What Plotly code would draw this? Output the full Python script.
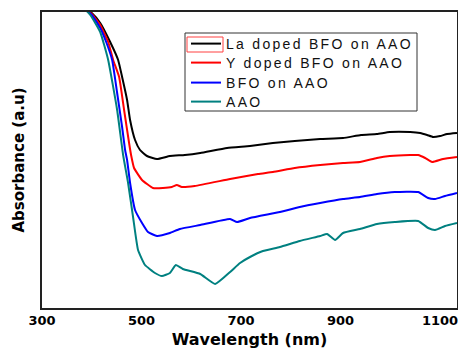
import plotly.graph_objects as go

# Wavelength (nm) and absorbance (a.u.)
la_wl = [300, 376, 400, 417, 437, 453, 461, 471, 477, 487, 497, 511, 531, 557, 587, 618, 672, 718, 764, 808, 859, 905, 941, 973, 999, 1040, 1060, 1074, 1086, 1100, 1114, 1134]
la_ab = [3.28, 3.03, 2.95, 2.85, 2.66, 2.48, 2.31, 2.08, 1.88, 1.68, 1.58, 1.52, 1.49, 1.52, 1.53, 1.55, 1.60, 1.62, 1.65, 1.67, 1.69, 1.70, 1.73, 1.74, 1.76, 1.76, 1.75, 1.73, 1.71, 1.72, 1.74, 1.75]

y_wl = [300, 376, 400, 417, 433, 443, 455, 465, 475, 479, 485, 501, 523, 543, 561, 571, 581, 607, 678, 734, 764, 808, 859, 905, 939, 973, 999, 1040, 1056, 1070, 1084, 1106, 1134]
y_ab = [3.28, 3.03, 2.94, 2.83, 2.66, 2.48, 2.31, 1.98, 1.65, 1.53, 1.40, 1.28, 1.20, 1.20, 1.21, 1.23, 1.21, 1.22, 1.29, 1.34, 1.36, 1.40, 1.43, 1.45, 1.46, 1.50, 1.52, 1.53, 1.53, 1.50, 1.46, 1.49, 1.51]

bfo_wl = [300, 376, 400, 417, 429, 441, 451, 461, 467, 471, 477, 487, 501, 513, 531, 557, 577, 618, 678, 692, 718, 778, 818, 859, 905, 939, 973, 1009, 1056, 1076, 1090, 1110, 1134]
bfo_ab = [3.28, 3.03, 2.93, 2.80, 2.66, 2.48, 2.15, 1.81, 1.58, 1.48, 1.25, 0.98, 0.85, 0.76, 0.72, 0.75, 0.79, 0.83, 0.89, 0.86, 0.90, 0.96, 1.01, 1.05, 1.09, 1.11, 1.14, 1.16, 1.16, 1.10, 1.09, 1.12, 1.15]

aao_wl = [300, 376, 397, 417, 433, 451, 463, 473, 483, 493, 507, 527, 541, 557, 569, 583, 618, 648, 678, 698, 718, 744, 778, 818, 859, 873, 889, 905, 939, 973, 1009, 1056, 1076, 1090, 1110, 1134]
aao_ab = [3.28, 3.03, 2.93, 2.76, 2.48, 1.98, 1.53, 1.25, 0.91, 0.58, 0.43, 0.35, 0.32, 0.35, 0.43, 0.39, 0.34, 0.24, 0.36, 0.45, 0.51, 0.57, 0.61, 0.67, 0.72, 0.74, 0.68, 0.75, 0.79, 0.84, 0.86, 0.87, 0.80, 0.78, 0.82, 0.85]

x_ticks = [300, 500, 700, 900, 1100]

names = ["La doped BFO on AAO", "Y doped BFO on AAO", "BFO on AAO", "AAO"]
colors = ["#000000", "#ff0000", "#0000ff", "#008080"]
series = [(la_wl, la_ab), (y_wl, y_ab), (bfo_wl, bfo_ab), (aao_wl, aao_ab)]
legend_ids = ["legend2", "legend3", "legend4", "legend5"]

# plot-area geometry (pixels)
L, R, T, B = 42, 457, 12, 308
W, H = R - L, B - T


def px(x):
    return (x - L) / W


def py(y):
    return (B - y) / H


fig = go.Figure()
for (wl, ab), name, col, lg in zip(series, names, colors, legend_ids):
    fig.add_trace(go.Scatter(
        x=wl, y=ab, mode="lines",
        name="<span style='letter-spacing:2.3px'>" + name + "</span>",
        legend=lg,
        line=dict(color=col, width=2, shape="spline", smoothing=0.4)))

legend_font = dict(family="Liberation Sans, Arial", size=14, color="#111")
row_y = [44, 63, 83, 102]
legend_layout = {}
for lg, ry in zip(legend_ids, row_y):
    legend_layout[lg] = dict(x=px(186), y=py(ry), xanchor="left", yanchor="middle",
                             bgcolor="rgba(0,0,0,0)", borderwidth=0,
                             font=legend_font, itemwidth=30)

fig.update_layout(
    width=458, height=349,
    margin=dict(l=L, r=458 - R, t=T, b=349 - B),
    paper_bgcolor="white", plot_bgcolor="white",
    font=dict(family="DejaVu Sans", color="#000"),
    showlegend=True,
    shapes=[
        dict(type="rect", xref="paper", yref="paper", layer="above",
             x0=px(185), x1=px(417), y0=py(111), y1=py(33),
             fillcolor="white", line=dict(color="#333", width=1)),
        dict(type="rect", xref="paper", yref="paper", layer="above",
             x0=px(187), x1=px(223), y0=py(52), y1=py(37),
             line=dict(color="#ff4040", width=1)),
    ],
    **legend_layout,
)
fig.update_xaxes(range=[300, 1134], tickvals=x_ticks, ticks="", automargin=False,
                 showgrid=False, zeroline=False, ticklabelstandoff=0,
                 ticklabeloverflow="allow",
                 showline=True, mirror=True, linecolor="#222", linewidth=1.5,
                 tickfont=dict(family="DejaVu Sans", size=13, color="#000", weight="bold"),
                 title=dict(text="Wavelength (nm)", standoff=12,
                            font=dict(family="DejaVu Sans", size=16, color="#000", weight="bold")))
fig.update_yaxes(range=[0, 2.96], showticklabels=False, ticks="", automargin=False,
                 showgrid=False, zeroline=False,
                 showline=True, mirror=True, linecolor="#222", linewidth=1.5,
                 title=dict(text="Absorbance (a.u)", standoff=12,
                            font=dict(family="DejaVu Sans", size=15, color="#000", weight="bold")))

fig.write_html("out.html", config={"displayModeBar": False},
               post_script="document.body.style.margin='0';document.body.style.overflow='hidden';")
